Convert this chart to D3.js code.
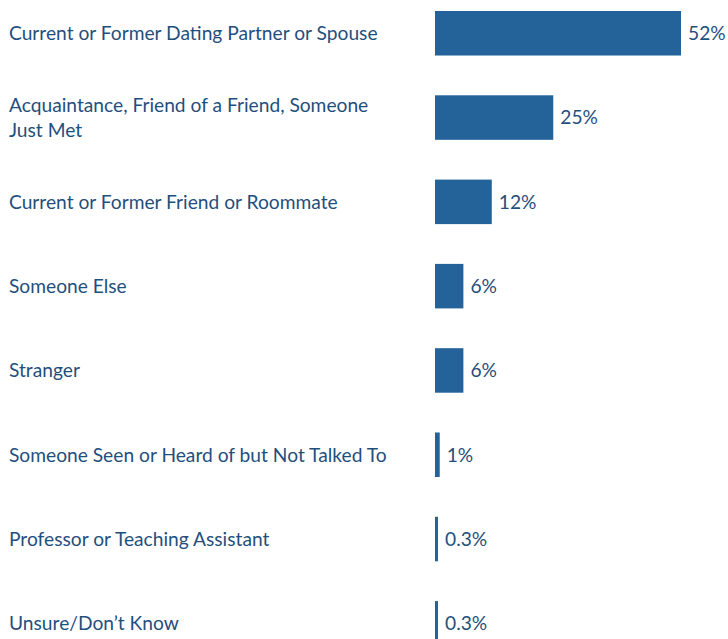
<!DOCTYPE html>
<html>
<head>
<meta charset="utf-8">
<script src="https://cdn.jsdelivr.net/npm/d3@7"></script>
<style>
  html, body { margin: 0; padding: 0; background: #ffffff; }
  svg { display: block; }
  text { font-family: Lato, "Open Sans", sans-serif; }
</style>
</head>
<body>
<div id="chart"></div>
<script>
// Relationship of the person to the respondent (share of respondents, %)
const categories = [
  "Current or Former Dating Partner or Spouse",
  "Acquaintance, Friend of a Friend, Someone|Just Met",
  "Current or Former Friend or Roommate",
  "Someone Else",
  "Stranger",
  "Someone Seen or Heard of but Not Talked To",
  "Professor or Teaching Assistant",
  "Unsure/Don\u2019t Know"
];
const values = [52, 25, 12, 6, 6, 1, 0.3, 0.3];
const valueLabels = ["52%", "25%", "12%", "6%", "6%", "1%", "0.3%", "0.3%"];

const W = 728, H = 639;
const barColor = "#236399";
const textColor = "#1f4f7d";
const fontSize = 19.2;

const svg = d3.select("#chart").append("svg")
  .attr("width", W).attr("height", H);

const x = d3.scaleLinear().domain([0, 52]).range([435, 681]);
const y = d3.scaleBand()
  .domain(categories)
  .range([11, 645.6])
  .paddingInner(0.472)
  .paddingOuter(0);

const rows = svg.selectAll("g.row")
  .data(categories.map((c, i) => ({ c, v: values[i], label: valueLabels[i] })))
  .enter().append("g").attr("class", "row");

// bars (very small shares keep a thin visible sliver)
rows.append("rect")
  .attr("x", x(0))
  .attr("y", d => y(d.c))
  .attr("width", d => Math.max(x(d.v) - x(0), 3))
  .attr("height", y.bandwidth())
  .attr("fill", barColor);

// category labels, wrapped on "|"
rows.append("text")
  .attr("fill", textColor)
  .attr("font-size", fontSize)
  .each(function (d) {
    const lines = d.c.split("|");
    const cy = y(d.c) + y.bandwidth() / 2;
    const lh = 25;
    const t = d3.select(this);
    lines.forEach((ln, k) => {
      t.append("tspan")
        .attr("x", 9)
        .attr("y", cy + (k - (lines.length - 1) / 2) * lh + 6.8)
        .text(ln);
    });
  });

// value labels
rows.append("text")
  .attr("fill", textColor)
  .attr("font-size", fontSize)
  .attr("x", d => x(0) + Math.max(x(d.v) - x(0), 3) + 7)
  .attr("y", d => y(d.c) + y.bandwidth() / 2 + 6.8)
  .text(d => d.label);
</script>
</body>
</html>
